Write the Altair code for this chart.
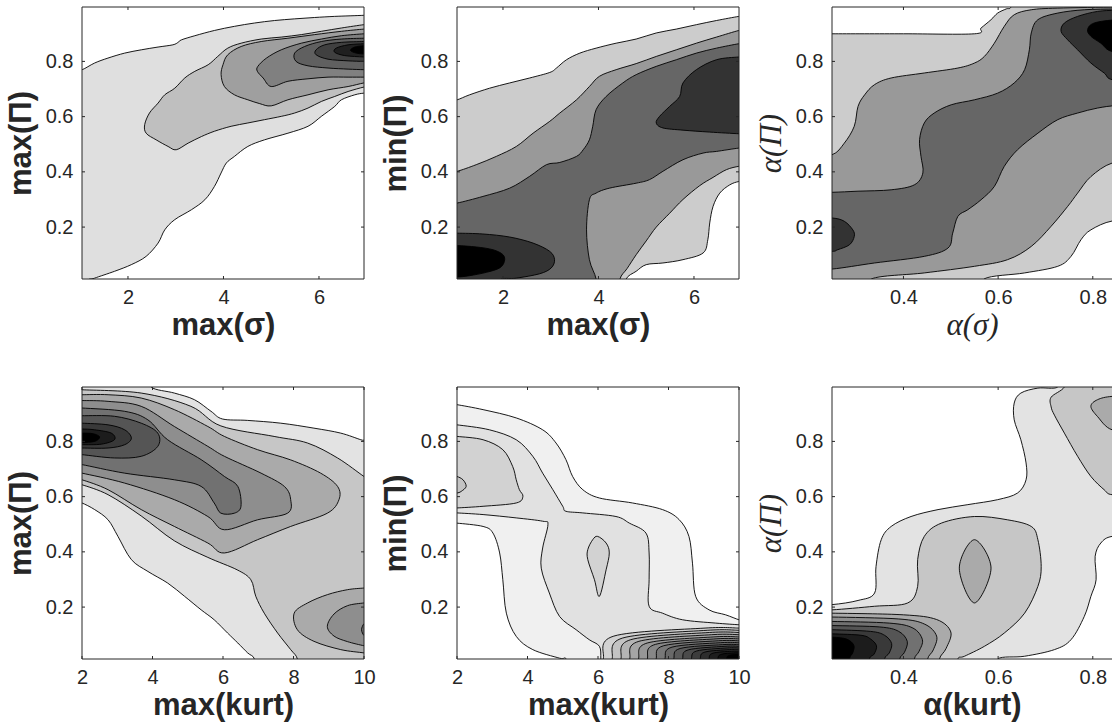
import altair as alt
import pandas as pd

AX = "#262626"
SANS = "Liberation Sans"
SERIF = "Liberation Serif"

Y_DOMAIN = [0.012, 0.997]
Y_TICKS = [0.2, 0.4, 0.6, 0.8]
X_TICKS_SIG = [2, 4, 6]
X_TICKS_ALPHA = [0.4, 0.6, 0.8]
X_TICKS_KURT = [2, 4, 6, 8, 10]
X_DOMAIN_SIG = [1.037, 6.943]
X_DOMAIN_ALPHA = [0.249, 0.8406]
X_DOMAIN_KURT = [2.0, 10.0]

# ---------------- Panel 1 : max(sigma) vs max(Pi) ----------------
P1_COLORS = ["#dfdfdf", "#bfbfbf", "#9f9f9f", "#808080", "#606060", "#404040", "#202020", "#000000"]
P1_L1 = [[(0.9, 0.77), (1.04, 0.770), (1.30, 0.794), (1.58, 0.812), (1.93, 0.830), (2.28, 0.842), (2.63, 0.852),
          (2.94, 0.860), (3.05, 0.869), (3.12, 0.878), (3.40, 0.893), (3.81, 0.912), (4.23, 0.927), (4.65, 0.939),
          (5.07, 0.948), (5.49, 0.954), (5.91, 0.959), (6.33, 0.963), (6.94, 0.967), (7.1, 0.97), (7.1, 0.685),
          (6.94, 0.685), (6.75, 0.679), (6.47, 0.661), (6.33, 0.637), (6.05, 0.601), (5.77, 0.565), (5.35, 0.540),
          (4.86, 0.516), (4.51, 0.492), (4.23, 0.456), (4.06, 0.432), (3.95, 0.396), (3.81, 0.347), (3.61, 0.299),
          (3.33, 0.263), (2.98, 0.227), (2.77, 0.190), (2.63, 0.142), (2.38, 0.094), (2.07, 0.064), (1.72, 0.040),
          (1.30, 0.015), (1.16, 0.005), (1.16, -0.05), (0.9, -0.05)]]
P1_L2 = [[(7.1, 0.935), (6.94, 0.933), (6.47, 0.921), (6.05, 0.909), (5.63, 0.897), (5.21, 0.888), (4.79, 0.881),
          (4.37, 0.866), (4.09, 0.848), (3.88, 0.818), (3.68, 0.788), (3.40, 0.764), (3.19, 0.740), (2.98, 0.703),
          (2.77, 0.679), (2.63, 0.649), (2.45, 0.613), (2.35, 0.571), (2.38, 0.540), (2.59, 0.516), (2.84, 0.492),
          (3.01, 0.480), (3.26, 0.504), (3.54, 0.528), (3.81, 0.547), (4.16, 0.565), (4.51, 0.577), (4.86, 0.589),
          (5.21, 0.601), (5.49, 0.613), (5.77, 0.631), (6.05, 0.655), (6.33, 0.673), (6.61, 0.691), (6.94, 0.707),
          (7.1, 0.71)]]
P1_L3 = [[(7.1, 0.918), (6.94, 0.917), (6.47, 0.909), (5.91, 0.897), (5.35, 0.884), (4.79, 0.872), (4.37, 0.854),
          (4.09, 0.824), (3.99, 0.788), (3.95, 0.752), (4.02, 0.709), (4.23, 0.679), (4.51, 0.661), (4.76, 0.647),
          (5.00, 0.639), (5.35, 0.661), (5.77, 0.679), (6.19, 0.697), (6.61, 0.709), (6.94, 0.722), (7.1, 0.724)]]
P1_L4 = [[(7.1, 0.901), (6.94, 0.900), (6.47, 0.893), (6.05, 0.881), (5.63, 0.866), (5.21, 0.842), (4.90, 0.812),
          (4.72, 0.782), (4.71, 0.764), (4.83, 0.740), (5.00, 0.709), (5.35, 0.728), (5.77, 0.737), (6.19, 0.743),
          (6.61, 0.743), (6.94, 0.743), (7.1, 0.743)]]
P1_L5 = [[(7.1, 0.885), (6.94, 0.884), (6.47, 0.881), (6.05, 0.872), (5.70, 0.854), (5.49, 0.830), (5.52, 0.800),
          (5.77, 0.784), (6.19, 0.776), (6.61, 0.772), (6.94, 0.770), (7.1, 0.770)]]
P1_L6 = [[(7.1, 0.873), (6.94, 0.872), (6.47, 0.869), (6.12, 0.860), (5.94, 0.842), (5.94, 0.824), (6.19, 0.808),
          (6.61, 0.802), (6.94, 0.800), (7.1, 0.800)]]
P1_L7 = [[(7.1, 0.865), (6.94, 0.864), (6.61, 0.860), (6.36, 0.848), (6.33, 0.833), (6.54, 0.821), (6.94, 0.816),
          (7.1, 0.816)]]
P1_L8 = [[(7.1, 0.858), (6.94, 0.857), (6.75, 0.852), (6.66, 0.840), (6.78, 0.830), (6.94, 0.827), (7.1, 0.827)]]

# ---------------- Panel 2 : max(sigma) vs min(Pi) ----------------
P2_COLORS = ["#cccccc", "#999999", "#666666", "#333333", "#000000"]
P2_L1 = [[(0.9, 0.661), (1.04, 0.661), (1.30, 0.679), (1.72, 0.703), (2.14, 0.722), (2.56, 0.740), (2.98, 0.760),
          (3.12, 0.776), (3.33, 0.806), (3.61, 0.830), (3.95, 0.848), (4.37, 0.866), (4.79, 0.881), (5.21, 0.903),
          (5.63, 0.917), (6.05, 0.933), (6.47, 0.948), (6.94, 0.963), (7.1, 0.965), (7.1, 0.365), (6.94, 0.365),
          (6.75, 0.353), (6.54, 0.323), (6.40, 0.275), (6.33, 0.215), (6.29, 0.154), (6.19, 0.106), (5.77, 0.082),
          (5.35, 0.070), (5.00, 0.064), (4.79, 0.040), (4.58, 0.012), (4.55, -0.05), (0.9, -0.05)]]
P2_L2 = [[(0.9, 0.402), (1.04, 0.402), (1.44, 0.426), (1.86, 0.456), (2.28, 0.492), (2.63, 0.540), (2.98, 0.583),
          (3.19, 0.613), (3.54, 0.661), (3.81, 0.709), (4.02, 0.746), (4.37, 0.770), (4.79, 0.792), (5.21, 0.818),
          (5.63, 0.842), (6.05, 0.866), (6.47, 0.888), (6.94, 0.912), (7.1, 0.915), (7.1, 0.420), (6.94, 0.420),
          (6.68, 0.408), (6.40, 0.380), (6.12, 0.350), (5.77, 0.300), (5.49, 0.250), (5.21, 0.200), (5.00, 0.150),
          (4.79, 0.100), (4.60, 0.050), (4.45, 0.012), (4.45, -0.05), (0.9, -0.05)]]
P2_L3 = [[(0.9, 0.287), (1.04, 0.287), (1.58, 0.311), (2.14, 0.341), (2.56, 0.384), (2.91, 0.426), (3.19, 0.434),
          (3.54, 0.456), (3.68, 0.480), (3.81, 0.516), (3.88, 0.565), (3.95, 0.625), (4.16, 0.673), (4.51, 0.722),
          (4.79, 0.752), (5.21, 0.782), (5.63, 0.806), (6.05, 0.830), (6.47, 0.848), (6.94, 0.864), (7.1, 0.866),
          (7.1, 0.486), (6.94, 0.486), (6.47, 0.474), (6.19, 0.468), (5.77, 0.444), (5.35, 0.402), (5.07, 0.372),
          (4.79, 0.359), (4.23, 0.341), (3.95, 0.323), (3.81, 0.299), (3.75, 0.190), (3.81, 0.082), (3.95, 0.012),
          (3.95, -0.05), (0.9, -0.05)]]
P2_L4 = [[(7.1, 0.816), (6.94, 0.816), (6.47, 0.806), (6.05, 0.770), (5.77, 0.722), (5.70, 0.673), (5.49, 0.637),
          (5.28, 0.601), (5.21, 0.577), (5.35, 0.559), (5.77, 0.551), (6.33, 0.544), (6.94, 0.538), (7.1, 0.538)],
         [(0.9, 0.178), (1.04, 0.178), (1.58, 0.175), (2.14, 0.164), (2.63, 0.142), (2.98, 0.112), (3.08, 0.082),
          (3.01, 0.052), (2.77, 0.031), (2.28, 0.015), (1.93, 0.008), (1.93, -0.05), (0.9, -0.05)]]
P2_L5 = [[(0.9, 0.133), (1.04, 0.133), (1.44, 0.128), (1.79, 0.118), (2.00, 0.100), (2.03, 0.076), (1.93, 0.052),
          (1.65, 0.036), (1.30, 0.024), (1.04, 0.019), (0.9, 0.019)]]

# ---------------- Panel 3 : alpha(sigma) vs alpha(Pi) ----------------
P3_COLORS = ["#cccccc", "#999999", "#666666", "#333333", "#000000"]
P3_L1 = [[(0.2, 0.900), (0.249, 0.900), (0.40, 0.900), (0.550, 0.900), (0.564, 0.921), (0.585, 0.951), (0.599, 0.975),
          (0.617, 0.990), (0.627, 0.997), (0.63, 1.05), (0.9, 1.05), (0.9, 0.222), (0.841, 0.222), (0.796, 0.190),
          (0.775, 0.154), (0.754, 0.094), (0.726, 0.058), (0.656, 0.034), (0.570, 0.012), (0.57, -0.05), (0.2, -0.05)]]
P3_L2 = [[(0.2, 0.462), (0.249, 0.462), (0.275, 0.504), (0.296, 0.565), (0.304, 0.637), (0.318, 0.679), (0.339, 0.716),
          (0.374, 0.740), (0.444, 0.758), (0.515, 0.776), (0.550, 0.794), (0.571, 0.818), (0.592, 0.866), (0.613, 0.927),
          (0.634, 0.969), (0.670, 0.987), (0.726, 0.993), (0.85, 0.997), (0.9, 0.997), (0.9, 0.44), (0.841, 0.432),
          (0.796, 0.383), (0.768, 0.323), (0.747, 0.275), (0.712, 0.203), (0.670, 0.130), (0.620, 0.082), (0.550, 0.058),
          (0.444, 0.034), (0.332, 0.012), (0.33, -0.05), (0.2, -0.05)]]
P3_L3 = [[(0.2, 0.326), (0.249, 0.326), (0.304, 0.330), (0.374, 0.335), (0.423, 0.353), (0.441, 0.396), (0.437, 0.456),
          (0.434, 0.517), (0.444, 0.577), (0.465, 0.613), (0.501, 0.643), (0.550, 0.661), (0.599, 0.685), (0.634, 0.722),
          (0.656, 0.770), (0.666, 0.842), (0.670, 0.903), (0.684, 0.951), (0.726, 0.975), (0.782, 0.987), (0.85, 0.990),
          (0.9, 0.990), (0.9, 0.640), (0.85, 0.640), (0.810, 0.631), (0.768, 0.613), (0.726, 0.589), (0.684, 0.540),
          (0.641, 0.480), (0.613, 0.420), (0.592, 0.347), (0.564, 0.299), (0.536, 0.263), (0.515, 0.239), (0.504, 0.178),
          (0.494, 0.124), (0.444, 0.094), (0.339, 0.070), (0.249, 0.048), (0.2, 0.048)]]
P3_L4 = [[(0.9, 0.734), (0.841, 0.734), (0.824, 0.758), (0.796, 0.794), (0.768, 0.842), (0.747, 0.878), (0.733, 0.909),
          (0.740, 0.939), (0.768, 0.963), (0.810, 0.981), (0.85, 0.985), (0.9, 0.985)],
         [(0.2, 0.233), (0.249, 0.233), (0.275, 0.221), (0.293, 0.190), (0.296, 0.166), (0.286, 0.136), (0.261, 0.118),
          (0.249, 0.112), (0.2, 0.112)]]
P3_L5 = [[(0.9, 0.836), (0.841, 0.836), (0.817, 0.866), (0.796, 0.891), (0.789, 0.915), (0.803, 0.939), (0.85, 0.951),
          (0.9, 0.951)]]

# ---------------- Panel 4 : max(kurt) vs max(Pi) ----------------
P4_COLORS = ["#e3e3e3", "#c6c6c6", "#aaaaaa", "#8e8e8e", "#717171", "#555555", "#393939", "#1c1c1c", "#000000"]
P4_L1 = [[(1.9, 1.05), (3.96, 1.05), (3.96, 0.997), (4.62, 0.975), (5.19, 0.951), (5.66, 0.909), (5.99, 0.881),
          (6.70, 0.876), (7.64, 0.866), (8.58, 0.848), (9.34, 0.830), (9.91, 0.806), (10.0, 0.804), (10.1, 0.80),
          (10.1, -0.05), (6.89, -0.05), (6.89, 0.012), (6.70, 0.034), (6.42, 0.070), (6.13, 0.106), (5.75, 0.154),
          (5.38, 0.190), (4.91, 0.239), (4.43, 0.287), (3.87, 0.329), (3.40, 0.372), (3.02, 0.456), (2.74, 0.516),
          (2.36, 0.553), (2.0, 0.577), (1.9, 0.577)]]
P4_L2 = [[(1.9, 0.987), (2.0, 0.987), (3.68, 0.975), (5.09, 0.927), (5.94, 0.856), (7.45, 0.818), (8.40, 0.794),
          (9.25, 0.740), (10.0, 0.673), (10.1, 0.67), (10.1, -0.05), (8.11, -0.05), (8.11, 0.012), (7.92, 0.046),
          (7.55, 0.106), (7.17, 0.178), (6.93, 0.239), (6.79, 0.299), (6.40, 0.335), (5.57, 0.380), (4.62, 0.440),
          (3.68, 0.530), (2.74, 0.607), (2.0, 0.643), (1.9, 0.643)]]
P4_L3 = [[(1.9, 0.661), (2.0, 0.661), (2.74, 0.625), (3.68, 0.553), (4.62, 0.492), (5.57, 0.432), (6.04, 0.396),
          (6.98, 0.444), (7.92, 0.492), (8.96, 0.540), (9.29, 0.589), (9.25, 0.637), (8.77, 0.685), (7.92, 0.733),
          (6.98, 0.770), (6.04, 0.818), (5.57, 0.854), (4.62, 0.915), (3.68, 0.957), (2.74, 0.969), (2.0, 0.969),
          (1.9, 0.969)],
         [(8.02, 0.178), (8.40, 0.215), (8.96, 0.245), (9.53, 0.263), (10.0, 0.269), (10.1, 0.27), (10.1, 0.03),
          (10.0, 0.034), (9.34, 0.046), (8.58, 0.076), (8.11, 0.118)]]
P4_L4 = [[(1.9, 0.685), (2.0, 0.685), (3.21, 0.649), (4.62, 0.589), (5.57, 0.528), (6.04, 0.480), (6.98, 0.516),
          (7.83, 0.540), (7.92, 0.589), (7.74, 0.637), (7.08, 0.685), (6.04, 0.746), (5.57, 0.782), (4.62, 0.854),
          (3.68, 0.927), (2.74, 0.945), (2.0, 0.948), (1.9, 0.948)],
         [(8.96, 0.130), (9.15, 0.175), (9.53, 0.205), (10.0, 0.215), (10.1, 0.215), (10.1, 0.06), (10.0, 0.06),
          (9.53, 0.075), (9.15, 0.095)]]
P4_L5 = [[(1.9, 0.716), (2.0, 0.716), (3.21, 0.685), (4.62, 0.661), (5.38, 0.637), (5.75, 0.577), (5.94, 0.540),
          (6.32, 0.540), (6.51, 0.565), (6.42, 0.637), (6.04, 0.673), (5.38, 0.734), (4.43, 0.806), (3.87, 0.878),
          (3.21, 0.909), (2.0, 0.921), (1.9, 0.921)],
         [(10.1, 0.14), (10.0, 0.14), (9.93, 0.118), (10.0, 0.097), (10.1, 0.097)]]
P4_L6 = [[(1.9, 0.752), (2.0, 0.752), (2.92, 0.740), (3.68, 0.746), (4.15, 0.782), (4.15, 0.830), (3.68, 0.866),
          (2.92, 0.891), (2.0, 0.893), (1.9, 0.893)]]
P4_L7 = [[(1.9, 0.776), (2.0, 0.776), (2.74, 0.776), (3.21, 0.788), (3.40, 0.812), (3.21, 0.842), (2.74, 0.860),
          (2.0, 0.866), (1.9, 0.866)]]
P4_L8 = [[(1.9, 0.788), (2.0, 0.788), (2.55, 0.790), (2.92, 0.806), (2.83, 0.830), (2.36, 0.842), (2.0, 0.845),
          (1.9, 0.845)]]
P4_L9 = [[(1.9, 0.796), (2.0, 0.796), (2.36, 0.800), (2.50, 0.816), (2.31, 0.828), (2.0, 0.830), (1.9, 0.830)]]

# ---------------- Panel 5 : max(kurt) vs min(Pi) ----------------
P5_COLORS = ["#f0f0f0", "#e1e1e1", "#d2d2d2", "#c3c3c3", "#b4b4b4", "#a5a5a5", "#969696", "#878787", "#787878",
             "#696969", "#5a5a5a", "#4b4b4b", "#3c3c3c", "#2d2d2d", "#1e1e1e", "#0f0f0f", "#000000"]
P5_L1 = [[(1.9, 0.933), (2.0, 0.933), (2.74, 0.915), (3.68, 0.885), (4.43, 0.842), (4.81, 0.794), (5.09, 0.734),
          (5.28, 0.673), (5.57, 0.625), (6.04, 0.595), (6.98, 0.577), (7.83, 0.553), (8.30, 0.517), (8.58, 0.456),
          (8.68, 0.359), (8.77, 0.239), (9.15, 0.190), (9.62, 0.172), (10.0, 0.154), (10.1, 0.154), (10.1, -0.05),
          (5.09, -0.05), (5.09, 0.012), (4.91, 0.015), (4.15, 0.046), (3.68, 0.094), (3.40, 0.178), (3.30, 0.299),
          (3.21, 0.396), (3.02, 0.468), (2.74, 0.492), (2.0, 0.504), (1.9, 0.504)]]
P5_L2 = [[(1.9, 0.860), (2.0, 0.860), (2.92, 0.842), (3.68, 0.806), (4.15, 0.746), (4.43, 0.685), (4.72, 0.625),
          (5.00, 0.565), (5.09, 0.547), (5.57, 0.541), (6.51, 0.528), (6.89, 0.504), (7.36, 0.468), (7.45, 0.396),
          (7.45, 0.299), (7.45, 0.203), (7.83, 0.178), (8.40, 0.154), (9.34, 0.142), (10.0, 0.136), (10.1, 0.136),
          (10.1, -0.05), (6.08, -0.05), (6.08, 0.012), (6.04, 0.058), (5.75, 0.082), (5.38, 0.118), (4.91, 0.166),
          (4.62, 0.251), (4.39, 0.341), (4.43, 0.414), (4.58, 0.499), (4.43, 0.511), (3.68, 0.523), (2.74, 0.535),
          (2.0, 0.541), (1.9, 0.541)]]
P5_L3_EXTRA = [[(1.9, 0.818), (2.0, 0.818), (2.74, 0.806), (3.30, 0.770), (3.58, 0.709), (3.68, 0.661), (3.77, 0.625),
                (3.87, 0.601), (3.68, 0.577), (2.74, 0.565), (2.0, 0.559), (1.9, 0.559)],
               [(5.99, 0.456), (6.23, 0.432), (6.32, 0.396), (6.23, 0.335), (6.04, 0.239), (5.90, 0.299),
                (5.71, 0.372), (5.71, 0.408), (5.85, 0.444)]]
P5_L4_EXTRA = [[(1.9, 0.673), (2.0, 0.673), (2.17, 0.661), (2.26, 0.637), (2.12, 0.619), (2.0, 0.613), (1.9, 0.613)]]
# nested contours in the lower-right corner (levels 3..17)
P5_NEST_XB = [6.15, 6.40, 6.65, 6.90, 7.15, 7.40, 7.65, 7.90, 8.15, 8.40, 8.65, 8.90, 9.15, 9.40, 9.65]
P5_NEST_XK = [6.45, 6.70, 6.93, 7.16, 7.40, 7.63, 7.86, 8.10, 8.33, 8.56, 8.80, 9.03, 9.26, 9.50, 9.73]
P5_NEST_YK = [0.095, 0.088, 0.082, 0.076, 0.070, 0.065, 0.060, 0.055, 0.050, 0.045, 0.041, 0.037, 0.033, 0.029, 0.025]
P5_NEST_YR = [0.124, 0.116, 0.108, 0.100, 0.092, 0.085, 0.078, 0.071, 0.064, 0.058, 0.052, 0.046, 0.040, 0.034, 0.028]

# ---------------- Panel 6 : alpha(kurt) vs alpha(Pi) ----------------
P6_COLORS = ["#e3e3e3", "#c6c6c6", "#aaaaaa", "#8e8e8e", "#717171", "#555555", "#393939", "#1c1c1c", "#000000"]
P6_L1 = [[(0.2, 0.209), (0.249, 0.209), (0.304, 0.224), (0.339, 0.251), (0.342, 0.347), (0.353, 0.444), (0.374, 0.492),
          (0.416, 0.528), (0.473, 0.553), (0.536, 0.571), (0.599, 0.589), (0.641, 0.613), (0.659, 0.661), (0.659, 0.722),
          (0.648, 0.806), (0.634, 0.878), (0.634, 0.939), (0.648, 0.975), (0.684, 0.993), (0.726, 0.997), (0.73, 1.05),
          (0.9, 1.05), (0.9, 0.456), (0.841, 0.456), (0.817, 0.432), (0.805, 0.384), (0.807, 0.299), (0.796, 0.239),
          (0.782, 0.166), (0.754, 0.082), (0.719, 0.046), (0.656, 0.022), (0.599, 0.012), (0.6, -0.05), (0.2, -0.05)]]
P6_L2 = [[(0.745, 1.05), (0.74, 0.997), (0.712, 0.960), (0.712, 0.925), (0.719, 0.895), (0.740, 0.830), (0.768, 0.746),
          (0.796, 0.673), (0.824, 0.625), (0.841, 0.607), (0.9, 0.607), (0.9, 1.05)],
         [(0.2, 0.190), (0.249, 0.190), (0.339, 0.203), (0.409, 0.215), (0.430, 0.275), (0.430, 0.372), (0.444, 0.456),
          (0.480, 0.504), (0.550, 0.528), (0.620, 0.516), (0.670, 0.492), (0.684, 0.444), (0.691, 0.347), (0.684, 0.275),
          (0.656, 0.178), (0.613, 0.106), (0.571, 0.058), (0.529, 0.022), (0.515, 0.012), (0.515, -0.05), (0.2, -0.05)]]
P6_L3 = [[(0.9, 0.963), (0.841, 0.963), (0.810, 0.951), (0.796, 0.927), (0.810, 0.890), (0.841, 0.842), (0.9, 0.842)],
         [(0.550, 0.444), (0.585, 0.341), (0.550, 0.215), (0.518, 0.341)],
         [(0.2, 0.178), (0.249, 0.178), (0.40, 0.172), (0.47, 0.155), (0.50, 0.110), (0.49, 0.050), (0.476, 0.012),
          (0.476, -0.05), (0.2, -0.05)]]
P6_L4 = [[(0.2, 0.164), (0.249, 0.164), (0.39, 0.157), (0.445, 0.138), (0.47, 0.095), (0.463, 0.045), (0.451, 0.012),
          (0.451, -0.05), (0.2, -0.05)]]
P6_L5 = [[(0.2, 0.148), (0.249, 0.148), (0.37, 0.142), (0.42, 0.124), (0.44, 0.082), (0.433, 0.040), (0.423, 0.012),
          (0.423, -0.05), (0.2, -0.05)]]
P6_L6 = [[(0.2, 0.133), (0.249, 0.133), (0.35, 0.128), (0.39, 0.112), (0.408, 0.076), (0.402, 0.036), (0.392, 0.012),
          (0.392, -0.05), (0.2, -0.05)]]
P6_L7 = [[(0.2, 0.118), (0.249, 0.118), (0.33, 0.112), (0.36, 0.098), (0.375, 0.068), (0.370, 0.034), (0.360, 0.012),
          (0.360, -0.05), (0.2, -0.05)]]
P6_L8 = [[(0.2, 0.103), (0.249, 0.103), (0.31, 0.098), (0.33, 0.085), (0.343, 0.060), (0.338, 0.030), (0.328, 0.012),
          (0.328, -0.05), (0.2, -0.05)]]
P6_L9 = [[(0.2, 0.091), (0.249, 0.091), (0.28, 0.084), (0.295, 0.062), (0.293, 0.035), (0.286, 0.012), (0.286, -0.05),
          (0.2, -0.05)]]

W = 282
W_LAST = 280
H = 272
TICK = 3
PAGE_W = 1113
PAGE_H = 723
LEFT = 82
TOP = 7


def nest_polys(xb, xk, yk, yr, right):
    out = []
    for a, b, c, d in zip(xb, xk, yk, yr):
        out.append([[(a, -0.05), (a, Y_DOMAIN[0]), (b, c), (right - 0.25 * (right - a), d), (right, d),
                     (right + 0.1, d), (right + 0.1, -0.05)]])
    return out


def title_style(text):
    if text.startswith("α(") and ("σ" in text or "Π" in text):
        return dict(font=SERIF, weight="normal", style="italic")
    return dict(font=SANS, weight="bold", style="normal")


def panel(levels, colors, xdom, xticks, xfmt, xtitle, ytitle, width, right_edge=True):
    rows = []
    for li, polys in enumerate(levels):
        for pi, poly in enumerate(polys):
            for vi, (x, y) in enumerate(poly):
                rows.append(dict(level=li, poly=f"{li}-{pi}", i=vi, x=x, y=y))
    df = pd.DataFrame(rows)
    xs = alt.Scale(domain=xdom, nice=False, zero=False)
    ys = alt.Scale(domain=Y_DOMAIN, nice=False, zero=False)
    xt_s = title_style(xtitle)
    yt_s = title_style(ytitle)
    xaxis = alt.Axis(values=xticks, format=xfmt, title=xtitle, orient="bottom", ticks=False, tickSize=0,
                     domain=False, grid=False, labelFont=SANS, labelFontSize=20, labelColor=AX, labelPadding=8,
                     labelFlush=False, labelOverlap=False, titleFont=xt_s["font"], titleFontWeight=xt_s["weight"],
                     titleFontStyle=xt_s["style"], titleFontSize=31, titleColor=AX, titlePadding=3)
    yaxis = alt.Axis(values=Y_TICKS, format=".1f", title=ytitle, orient="left", ticks=False, tickSize=0,
                     domain=False, grid=False, labelFont=SANS, labelFontSize=20, labelColor=AX, labelPadding=9,
                     labelFlush=False, labelOverlap=False, titleFont=yt_s["font"], titleFontWeight=yt_s["weight"],
                     titleFontStyle=yt_s["style"], titleFontSize=31, titleColor=AX, titlePadding=8)
    layers = []
    for li, col in enumerate(colors[:len(levels)]):
        layers.append(
            alt.Chart(df).transform_filter(alt.datum.level == li)
            .mark_line(fill=col, stroke="black", strokeWidth=0.9, interpolate="cardinal-closed", clip=True,
                       strokeJoin="round")
            .encode(
                x=alt.X("x:Q", scale=xs, axis=xaxis),
                y=alt.Y("y:Q", scale=ys, axis=yaxis),
                detail="poly:N",
                order=alt.Order("i:Q"),
            )
        )
    xt = pd.DataFrame({"v": xticks})
    yt = pd.DataFrame({"v": Y_TICKS})
    layers += [
        alt.Chart(xt).mark_rule(color=AX, strokeWidth=1).encode(
            x=alt.X("v:Q", scale=xs, axis=xaxis), y=alt.value(H), y2=alt.value(H - TICK)),
        alt.Chart(xt).mark_rule(color=AX, strokeWidth=1).encode(
            x=alt.X("v:Q", scale=xs, axis=xaxis), y=alt.value(0), y2=alt.value(TICK)),
        alt.Chart(yt).mark_rule(color=AX, strokeWidth=1).encode(
            y=alt.Y("v:Q", scale=ys, axis=yaxis), x=alt.value(0), x2=alt.value(TICK)),
    ]
    if right_edge:
        layers.append(alt.Chart(yt).mark_rule(color=AX, strokeWidth=1).encode(
            y=alt.Y("v:Q", scale=ys, axis=yaxis), x=alt.value(width - TICK), x2=alt.value(width)))
    layers += [
        alt.Chart().mark_rule(color=AX, strokeWidth=1).encode(x=alt.value(0), x2=alt.value(width), y=alt.value(0)),
        alt.Chart().mark_rule(color=AX, strokeWidth=1).encode(x=alt.value(0), x2=alt.value(width), y=alt.value(H)),
        alt.Chart().mark_rule(color=AX, strokeWidth=1).encode(x=alt.value(0), y=alt.value(0), y2=alt.value(H)),
    ]
    if right_edge:
        layers.append(alt.Chart().mark_rule(color=AX, strokeWidth=1).encode(
            x=alt.value(width), y=alt.value(0), y2=alt.value(H)))
    return alt.layer(*layers).properties(width=width, height=H)


P1_LEVELS = [P1_L1, P1_L2, P1_L3, P1_L4, P1_L5, P1_L6, P1_L7, P1_L8]
P2_LEVELS = [P2_L1, P2_L2, P2_L3, P2_L4, P2_L5]
P3_LEVELS = [P3_L1, P3_L2, P3_L3, P3_L4, P3_L5]
P4_LEVELS = [P4_L1, P4_L2, P4_L3, P4_L4, P4_L5, P4_L6, P4_L7, P4_L8, P4_L9]
P6_LEVELS = [P6_L1, P6_L2, P6_L3, P6_L4, P6_L5, P6_L6, P6_L7, P6_L8, P6_L9]

nest = nest_polys(P5_NEST_XB, P5_NEST_XK, P5_NEST_YK, P5_NEST_YR, X_DOMAIN_KURT[1])
P5_LEVELS = [P5_L1, P5_L2, P5_L3_EXTRA + nest[0], P5_L4_EXTRA + nest[1]] + nest[2:]

p1 = panel(P1_LEVELS, P1_COLORS, X_DOMAIN_SIG, X_TICKS_SIG, "d", "max(σ)", "max(Π)", W)
p2 = panel(P2_LEVELS, P2_COLORS, X_DOMAIN_SIG, X_TICKS_SIG, "d", "max(σ)", "min(Π)", W)
p3 = panel(P3_LEVELS, P3_COLORS, X_DOMAIN_ALPHA, X_TICKS_ALPHA, ".1f", "α(σ)", "α(Π)", W_LAST, right_edge=False)
p4 = panel(P4_LEVELS, P4_COLORS, X_DOMAIN_KURT, X_TICKS_KURT, "d", "max(kurt)", "max(Π)", W)
p5 = panel(P5_LEVELS, P5_COLORS, X_DOMAIN_KURT, X_TICKS_KURT, "d", "max(kurt)", "min(Π)", W)
p6 = panel(P6_LEVELS, P6_COLORS, X_DOMAIN_ALPHA, X_TICKS_ALPHA, ".1f", "α(kurt)", "α(Π)", W_LAST, right_edge=False)

chart = (
    alt.concat(p1, p2, p3, p4, p5, p6, columns=3, spacing={"row": 108, "column": 93}, bounds="flush")
    .properties(
        autosize=alt.AutoSizeParams(type="none"),
        padding={"left": LEFT, "top": TOP, "right": PAGE_W - LEFT, "bottom": PAGE_H - TOP},
        background="white",
    )
    .configure_view(stroke=None)
)

chart.save("out.html", embed_options={"renderer": "svg", "actions": False})
